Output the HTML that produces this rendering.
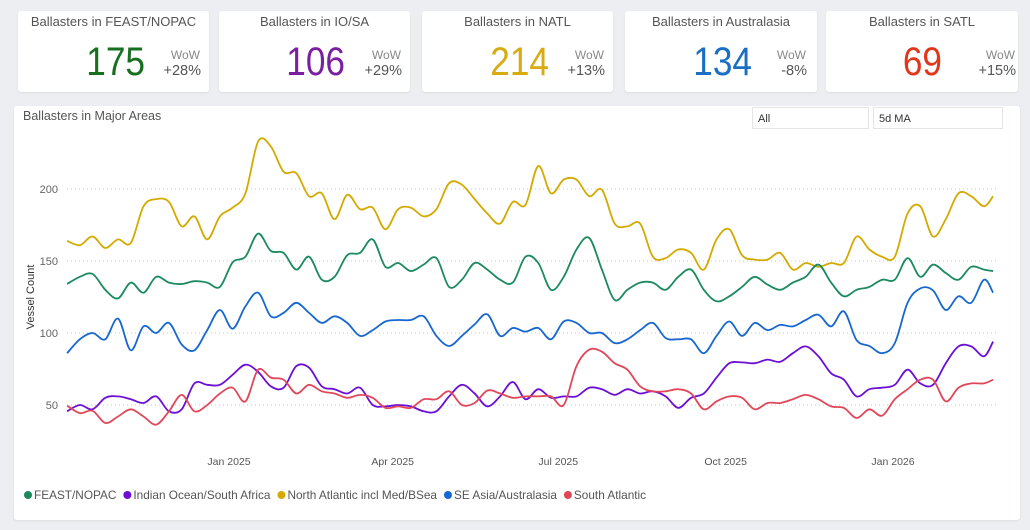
<!DOCTYPE html>
<html><head><meta charset="utf-8">
<style>
*{box-sizing:border-box;margin:0;padding:0}
body{width:1030px;height:530px;background:#eceef1;font-family:"Liberation Sans",sans-serif;position:relative;overflow:hidden}
.card{position:absolute;top:11px;height:81px;background:#fff;border-radius:3px;box-shadow:0 1px 2px rgba(0,0,0,.08)}
.card .t{position:absolute;top:3px;left:0;right:0;text-align:center;font-size:13px;color:#555}
.card .n{position:absolute;top:29px;font-size:40px;text-align:right;width:120px;transform:scaleX(0.88);transform-origin:right center}
.card .w{position:absolute;top:37px;font-size:12px;color:#888;text-align:right;width:40px}
.card .p{position:absolute;top:52px;font-size:14.5px;color:#555;text-align:right;width:50px}
#panel{position:absolute;left:14px;top:106px;width:1006px;height:414px;background:#fff;border-radius:3px;box-shadow:0 1px 2px rgba(0,0,0,.08)}
.dd{position:absolute;top:1px;height:22px;border:1px solid #e4e4e4;font-size:11px;color:#333;padding:5px 0 0 5px}
</style></head><body>
<div class="card" style="left:18px;width:191px">
 <div class="t">Ballasters in FEAST/NOPAC</div>
 <div class="n" style="left:7px;color:#17701f">175</div>
 <div class="w" style="left:142px">WoW</div>
 <div class="p" style="left:133px">+28%</div>
</div>
<div class="card" style="left:219px;width:191px">
 <div class="t">Ballasters in IO/SA</div>
 <div class="n" style="left:6px;color:#7b1fa2">106</div>
 <div class="w" style="left:142px">WoW</div>
 <div class="p" style="left:133px">+29%</div>
</div>
<div class="card" style="left:422px;width:191px">
 <div class="t">Ballasters in NATL</div>
 <div class="n" style="left:7px;color:#d8ab10">214</div>
 <div class="w" style="left:142px">WoW</div>
 <div class="p" style="left:133px">+13%</div>
</div>
<div class="card" style="left:625px;width:192px">
 <div class="t">Ballasters in Australasia</div>
 <div class="n" style="left:7px;color:#1a6fc4">134</div>
 <div class="w" style="left:141px">WoW</div>
 <div class="p" style="left:132px">-8%</div>
</div>
<div class="card" style="left:826px;width:192px">
 <div class="t">Ballasters in SATL</div>
 <div class="n" style="left:-4px;color:#e2361b">69</div>
 <div class="w" style="left:149px">WoW</div>
 <div class="p" style="left:140px">+15%</div>
</div>
<div id="panel">
 <div style="position:absolute;left:9px;top:3px;font-size:12.5px;color:#555">Ballasters in Major Areas</div>
 <div class="dd" style="left:738px;width:117px">All</div>
 <div class="dd" style="left:859px;width:130px">5d MA</div>
</div>
<svg id="chart" width="1030" height="530" style="position:absolute;left:0;top:0"></svg>
<script>
const startDate = "2024-10-04";
const stepDays = 7;
const tickLabels = ["Jan 2025","Apr 2025","Jul 2025","Oct 2025","Jan 2026"];
const tickDates = ["2025-01-01","2025-04-01","2025-07-01","2025-10-01","2026-01-01"];
const yTicks = [50,100,150,200];
const seriesNames = ["FEAST/NOPAC","Indian Ocean/South Africa","North Atlantic incl Med/BSea","SE Asia/Australasia","South Atlantic"];
const seriesColors = ["#1b8a5f","#6c0fd6","#d4a900","#1668d0","#e0485a"];
const feast = [134,139,141,130,124,135,128,139,135,134,136,135,132,149,153,169,157,155.6,144,153,137,139,154,155.6,165,146,148.6,143,147.5,152,132,137,148.6,144,137,135,153,148.6,130,139,158,166,144,123,130,135,135,130,139,144,130,122,125.5,132,139,133.6,130,135,139,147.5,135,125.5,130,132,137,137,152,139,147.5,141.7,137,146,144,143];
const indian = [45.6,50,47,55,56,54,51.4,56,45.6,47,65,64,64,71,78,73,63,62,77,76,63,61,58,62,50,49,50,49,45.6,45.6,56,64,58,49,56,66,54,61,55,56,56,62,61,57,61,58,59.5,56,48,55,58,69,79,79.6,79,81.5,80,86,90.7,83.8,72,67.6,56,61,62,64,74.5,65,64,79,90.7,90.7,83.8,94];
const natl = [164,161,167,159,165,162.5,188,193,191,174,181,165,181,187,197,233,229.6,212,211,195,197,179,196,186,187,172,186,187,181,186,204,203,193,183,176,191,189,216,197,206.5,206.5,195,199.5,176,174,176,153,152,158,155.6,144,165,172,154,151,151,155.6,144,148.6,146,148.6,148.6,167,158,153,153,183,188,167,179,197,195,188,195];
const seasia = [86,95.6,100,95.6,110,88,104.6,100,107,92,88,102,116,103,118.5,128,111.6,114,121,114,107,111.6,107,98,102,108,109,109,111.6,98,91,98,106,113,98,103.5,101,103.5,95.6,108,107,100,100,93,95.6,102,107,96.5,95.6,95.6,86,98,108,98,107,102,105.6,104.6,109,112.7,104.6,115,95,91,86,93,121,131,129.6,116,125.5,121,137,128];
const satl = [49.5,44.4,46,37.5,42,47,42,36.4,45.6,57,45.6,50,58,62,52.5,74.5,69,67.6,58,64,59.5,58,55,57,55,48,49,48,54,54,59.5,50,51.4,60,58,55,56,56,56,50,77,88.4,87,79,74.5,63,59.5,59.5,61,58,47,52.5,56,55,47,51.4,51.4,54,57,54,49,48,41,47,42.6,54,61,67.6,67.6,52.5,62,65,65,67.6];
const allSeries = [feast,indian,natl,seasia,satl];

const svg = document.getElementById('chart');
const NS = 'http://www.w3.org/2000/svg';
const DAY = 86400000;
const x0Date = Date.parse("2025-01-01");
function xScale(ms){ return 229 + (ms - x0Date)/DAY * (664/365); }
function yScale(v){ return 477 - v*1.44; }
function pointDate(i, n){ const d = (i===n-1) ? 509 : i*stepDays; return Date.parse(startDate) + d*DAY; }
function mk(tag, attrs){ const e = document.createElementNS(NS, tag); for (const k in attrs) e.setAttribute(k, attrs[k]); svg.appendChild(e); return e; }

yTicks.forEach(v => {
  const g = mk('line', {x1:67, x2:997, y1:yScale(v), y2:yScale(v), stroke:'#c8c8c8', 'stroke-dasharray':'1 3', 'stroke-width':1});
  
  
  const t = mk('text', {x:58, y:yScale(v)+4, 'text-anchor':'end', 'font-size':11, fill:'#666', 'font-family':'Liberation Sans, sans-serif'});
  t.textContent = v;
  
  
});
tickLabels.forEach((lab, i) => {
  const t = mk('text', {x:xScale(Date.parse(tickDates[i])), y:465, 'text-anchor':'middle', 'font-size':10.5, fill:'#555', 'font-family':'Liberation Sans, sans-serif'});
  t.textContent = lab;
  
  
});
const yt = mk('text', {x:0, y:0, transform:'translate(34,297) rotate(-90)', 'text-anchor':'middle', 'font-size':11, fill:'#333', 'font-family':'Liberation Sans, sans-serif'});
yt.textContent = 'Vessel Count';



function smoothPath(pts){
  let d = 'M' + pts[0][0].toFixed(1) + ',' + pts[0][1].toFixed(1);
  for (let i=0;i<pts.length-1;i++){
    const p0 = pts[Math.max(0,i-1)], p1 = pts[i], p2 = pts[i+1], p3 = pts[Math.min(pts.length-1,i+2)];
    const c1x = p1[0] + (p2[0]-p0[0])/6, c1y = p1[1] + (p2[1]-p0[1])/6;
    const c2x = p2[0] - (p3[0]-p1[0])/6, c2y = p2[1] - (p3[1]-p1[1])/6;
    d += ' C' + c1x.toFixed(1)+','+c1y.toFixed(1)+' '+c2x.toFixed(1)+','+c2y.toFixed(1)+' '+p2[0].toFixed(1)+','+p2[1].toFixed(1);
  }
  return d;
}
const order = [2,0,3,1,4];
order.forEach(si => {
  const vals = allSeries[si];
  const pts = vals.map((v,i) => [xScale(pointDate(i, vals.length)), yScale(v)]);
  const p = mk('path', {d:smoothPath(pts), fill:'none', stroke:seriesColors[si], 'stroke-width':1.8, 'stroke-linejoin':'round'});
  
  
});
let lx = 24;
seriesNames.forEach((nm, i) => {
  const c = mk('circle', {cx:lx+4, cy:495, r:4, fill:seriesColors[i]});
  
  
  const t = mk('text', {x:lx+10, y:499, 'font-size':11.8, fill:'#555', 'font-family':'Liberation Sans, sans-serif'});
  t.textContent = nm;
  
  
  lx += 10 + t.getComputedTextLength() + 7;
});
</script>
</body></html>
